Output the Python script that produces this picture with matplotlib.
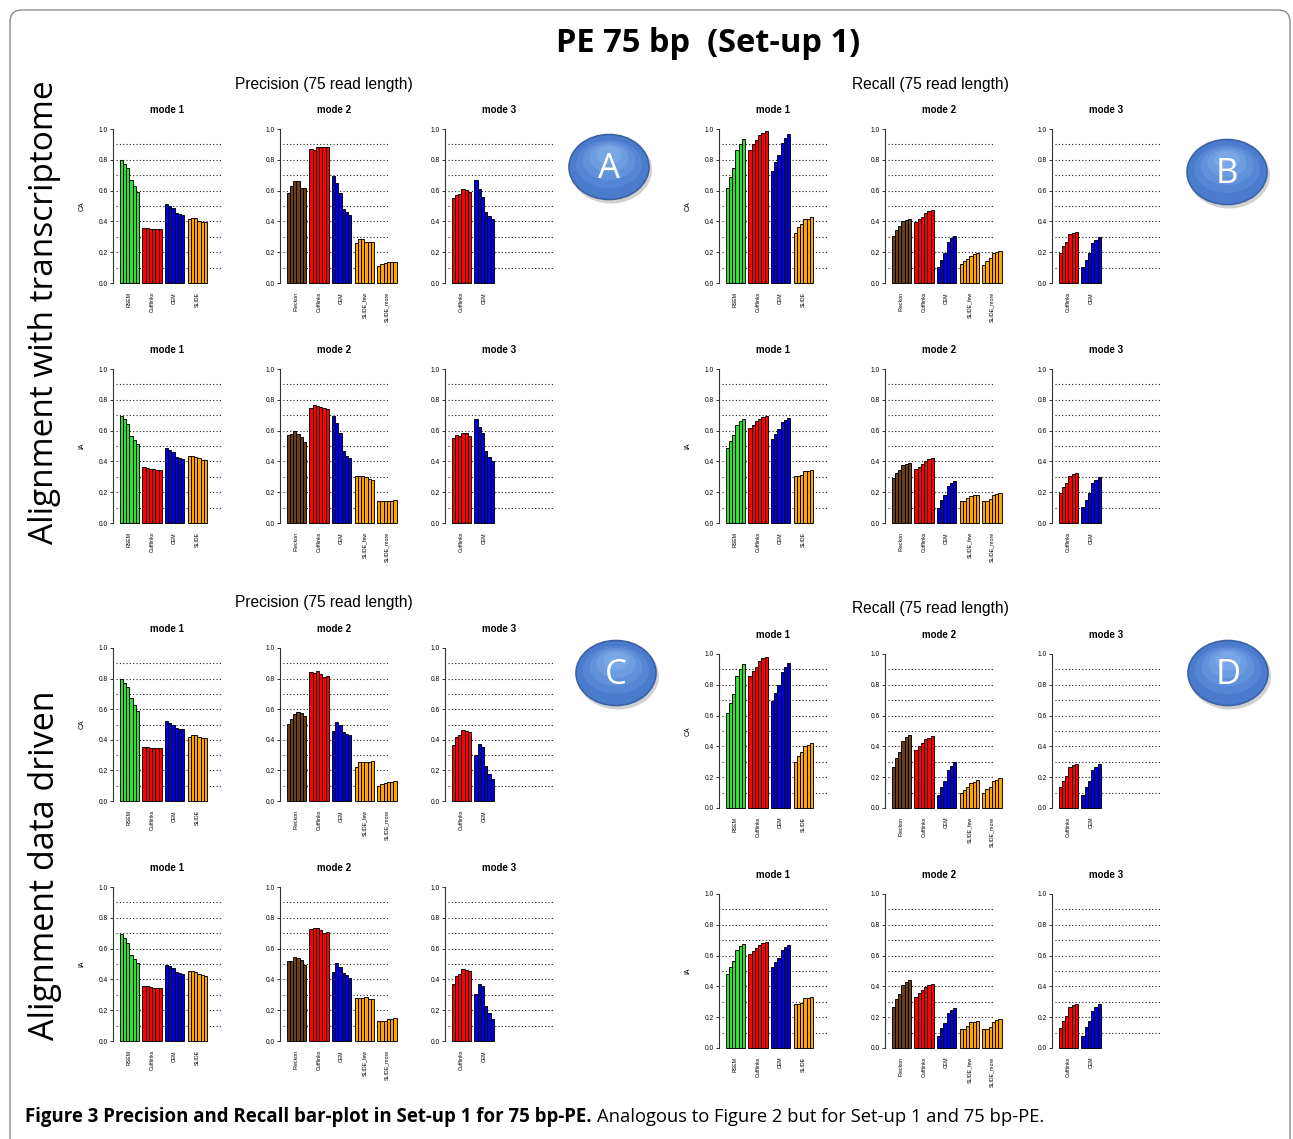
import matplotlib
matplotlib.use("Agg")
import matplotlib.pyplot as plt
import numpy as np
from matplotlib.patches import Ellipse, FancyBboxPatch
from matplotlib.transforms import IdentityTransform

plt.rcParams['font.family'] = ['Liberation Sans', 'DejaVu Sans']

W, H = 1293, 1139

# group names and colours per mode
mode1_names = ["RSEM", "Cufflinks", "CEM", "SLIDE"]
mode2_names = ["iReckon", "Cufflinks", "CEM", "SLIDE_few", "SLIDE_more"]
mode3_names = ["Cufflinks", "CEM"]
mode1_colors = ["#2fe02f", "#ff0000", "#0000e0", "#ffa500"]
mode2_colors = ["#6b3f1a", "#ff0000", "#0000e0", "#ffa500", "#ffa500"]
mode3_colors = ["#ff0000", "#0000e0"]

# A: precision, alignment with transcriptome
A_CA_m1 = [[0.80, 0.77, 0.75, 0.67, 0.63, 0.59],
           [0.36, 0.355, 0.35, 0.35, 0.35, 0.35],
           [0.515, 0.50, 0.485, 0.457, 0.448, 0.44],
           [0.415, 0.424, 0.42, 0.40, 0.396, 0.396]]
A_CA_m2 = [[0.583, 0.633, 0.66, 0.663, 0.62, 0.615],
           [0.87, 0.865, 0.883, 0.88, 0.88, 0.883],
           [0.696, 0.648, 0.587, 0.48, 0.459, 0.443],
           [0.257, 0.283, 0.283, 0.265, 0.265, 0.267],
           [0.113, 0.126, 0.133, 0.137, 0.139, 0.139]]
A_CA_m3 = [[0.55, 0.572, 0.576, 0.609, 0.604, 0.589],
           [0.67, 0.609, 0.56, 0.459, 0.437, 0.417]]
A_IA_m1 = [[0.698, 0.674, 0.641, 0.565, 0.539, 0.511],
           [0.361, 0.357, 0.352, 0.348, 0.343, 0.343],
           [0.485, 0.474, 0.459, 0.43, 0.422, 0.415],
           [0.437, 0.437, 0.43, 0.42, 0.407, 0.407]]
A_IA_m2 = [[0.572, 0.576, 0.598, 0.576, 0.557, 0.528],
           [0.746, 0.763, 0.757, 0.754, 0.746, 0.743],
           [0.693, 0.65, 0.587, 0.465, 0.433, 0.422],
           [0.304, 0.304, 0.307, 0.296, 0.287, 0.276],
           [0.141, 0.141, 0.141, 0.146, 0.146, 0.148]]
A_IA_m3 = [[0.55, 0.572, 0.563, 0.583, 0.583, 0.565],
           [0.678, 0.622, 0.583, 0.465, 0.428, 0.404]]

# B: recall, alignment with transcriptome
B_CA_m1 = [[0.615, 0.687, 0.746, 0.861, 0.902, 0.937],
           [0.861, 0.902, 0.928, 0.963, 0.976, 0.987],
           [0.726, 0.783, 0.83, 0.911, 0.941, 0.967],
           [0.322, 0.361, 0.38, 0.415, 0.415, 0.426]]
B_CA_m2 = [[0.302, 0.343, 0.37, 0.402, 0.409, 0.413],
           [0.393, 0.415, 0.43, 0.457, 0.465, 0.472],
           [0.104, 0.152, 0.193, 0.265, 0.289, 0.304],
           [0.122, 0.143, 0.159, 0.178, 0.189, 0.198],
           [0.12, 0.146, 0.165, 0.193, 0.204, 0.209]]
B_CA_m3 = [[0.196, 0.239, 0.265, 0.315, 0.326, 0.33],
           [0.104, 0.152, 0.196, 0.257, 0.278, 0.30]]
B_IA_m1 = [[0.485, 0.533, 0.57, 0.637, 0.663, 0.676],
           [0.615, 0.639, 0.661, 0.678, 0.689, 0.693],
           [0.546, 0.578, 0.611, 0.657, 0.672, 0.68],
           [0.302, 0.302, 0.309, 0.335, 0.335, 0.341]]
B_IA_m2 = [[0.293, 0.322, 0.341, 0.378, 0.383, 0.391],
           [0.348, 0.365, 0.38, 0.404, 0.417, 0.422],
           [0.098, 0.148, 0.185, 0.239, 0.257, 0.272],
           [0.146, 0.146, 0.161, 0.176, 0.183, 0.183],
           [0.146, 0.146, 0.157, 0.183, 0.191, 0.198]]
B_IA_m3 = [[0.196, 0.235, 0.261, 0.302, 0.317, 0.324],
           [0.104, 0.152, 0.196, 0.259, 0.278, 0.298]]

# C: precision, alignment data driven
C_CA_m1 = [[0.80, 0.771, 0.747, 0.673, 0.63, 0.586],
           [0.353, 0.351, 0.349, 0.346, 0.346, 0.346],
           [0.521, 0.512, 0.499, 0.479, 0.473, 0.468],
           [0.42, 0.434, 0.431, 0.418, 0.412, 0.412]]
C_CA_m2 = [[0.501, 0.538, 0.569, 0.58, 0.575, 0.558],
           [0.841, 0.839, 0.852, 0.832, 0.808, 0.819],
           [0.46, 0.519, 0.495, 0.453, 0.44, 0.431],
           [0.222, 0.253, 0.253, 0.257, 0.255, 0.259],
           [0.10, 0.113, 0.115, 0.126, 0.126, 0.133]]
C_CA_m3 = [[0.368, 0.42, 0.434, 0.464, 0.46, 0.451],
           [0.303, 0.37, 0.355, 0.231, 0.179, 0.146]]
C_IA_m1 = [[0.696, 0.67, 0.639, 0.561, 0.535, 0.507],
           [0.357, 0.354, 0.352, 0.346, 0.343, 0.341],
           [0.493, 0.485, 0.472, 0.448, 0.443, 0.437],
           [0.454, 0.452, 0.446, 0.437, 0.426, 0.424]]
C_IA_m2 = [[0.517, 0.522, 0.543, 0.539, 0.524, 0.491],
           [0.728, 0.735, 0.733, 0.722, 0.702, 0.709],
           [0.446, 0.504, 0.483, 0.441, 0.426, 0.409],
           [0.276, 0.276, 0.276, 0.283, 0.27, 0.274],
           [0.128, 0.128, 0.133, 0.141, 0.146, 0.15]]
C_IA_m3 = [[0.37, 0.42, 0.435, 0.465, 0.459, 0.452],
           [0.304, 0.372, 0.357, 0.23, 0.18, 0.146]]

# D: recall, alignment data driven
D_CA_m1 = [[0.615, 0.685, 0.741, 0.859, 0.902, 0.935],
           [0.854, 0.887, 0.915, 0.952, 0.972, 0.98],
           [0.696, 0.75, 0.798, 0.885, 0.915, 0.941],
           [0.30, 0.337, 0.365, 0.40, 0.407, 0.42]]
D_CA_m2 = [[0.263, 0.326, 0.365, 0.437, 0.459, 0.474],
           [0.378, 0.402, 0.422, 0.446, 0.452, 0.465],
           [0.083, 0.139, 0.178, 0.248, 0.272, 0.296],
           [0.10, 0.12, 0.137, 0.165, 0.172, 0.185],
           [0.098, 0.126, 0.139, 0.174, 0.185, 0.193]]
D_CA_m3 = [[0.135, 0.178, 0.211, 0.263, 0.276, 0.283],
           [0.083, 0.139, 0.178, 0.246, 0.263, 0.283]]
D_IA_m1 = [[0.483, 0.528, 0.567, 0.635, 0.661, 0.674],
           [0.609, 0.633, 0.652, 0.672, 0.685, 0.687],
           [0.524, 0.557, 0.587, 0.637, 0.659, 0.667],
           [0.283, 0.283, 0.293, 0.326, 0.326, 0.333]]
D_IA_m2 = [[0.265, 0.315, 0.352, 0.411, 0.43, 0.443],
           [0.33, 0.357, 0.374, 0.396, 0.409, 0.417],
           [0.078, 0.128, 0.163, 0.228, 0.248, 0.257],
           [0.126, 0.126, 0.141, 0.172, 0.172, 0.178],
           [0.126, 0.126, 0.139, 0.172, 0.183, 0.189]]
D_IA_m3 = [[0.133, 0.178, 0.211, 0.263, 0.276, 0.283],
           [0.08, 0.135, 0.178, 0.243, 0.263, 0.283]]

PX = 3.23       # pixels per bar unit
OFF = 2.1       # gap between axis and first bar (bar units)
XMAX = 37


def fx(px):
    return px / W


def fy(py):
    return 1 - py / H


def panel(x_spine, y_top, y_zero, groups, names, colors, mode, ylab=None):
    ax = fig.add_axes([fx(x_spine), fy(y_zero), XMAX * PX / W, (y_zero - y_top) / H])
    ax.set_xlim(0, XMAX)
    ax.set_ylim(0, 1)
    ax.hlines(np.arange(1, 10) / 10, 0.9, 33.5, colors='#222222',
              linestyles=(0, (1, 2)), lw=0.8, zorder=1)
    for g, vals in enumerate(groups):
        x = OFF + 7 * g + np.arange(len(vals))
        ax.bar(x, vals, width=1, align='edge', color=colors[g],
               edgecolor='black', lw=0.65, zorder=2, clip_on=False)
        ax.text(OFF + 7 * g + 3, -9 / (y_zero - y_top), names[g], rotation=90,
                ha='center', va='top', fontsize=3.8,
                transform=ax.get_xaxis_transform())
    for s in ['top', 'right', 'bottom']:
        ax.spines[s].set_visible(False)
    ax.spines['left'].set_bounds(0, 1)
    ax.spines['left'].set_color('#333333')
    ax.set_xticks([])
    ax.set_yticks(np.arange(6) / 5)
    ax.set_yticklabels(["%.1f" % v for v in np.arange(6) / 5])
    ax.tick_params(axis='y', labelsize=4.8, length=2.2, width=0.7, pad=1.5,
                   color='#333333')
    ax.patch.set_alpha(0)
    fig.text(fx(x_spine + 54), fy(y_top - 19), mode, ha='center', va='center',
             fontsize=7, fontweight='bold')
    if ylab:
        fig.text(fx(x_spine - 31), fy((y_top + y_zero) / 2), ylab, rotation=90,
                 ha='center', va='center', fontsize=5)
    return ax


fig = plt.figure(figsize=(W / 100, H / 100), dpi=100)

# frame around the figure
frame = FancyBboxPatch((10, -30), 1280, H - 10 + 30, boxstyle="round,pad=0,rounding_size=12",
                       transform=IdentityTransform(), fill=False, ec='#808080', lw=0.9)
fig.add_artist(frame)

quads = [
    ([113, 280, 445], [(129, 283), (369, 523)], [A_CA_m1, A_CA_m2, A_CA_m3], [A_IA_m1, A_IA_m2, A_IA_m3]),
    ([719, 885, 1052], [(129, 283), (369, 523)], [B_CA_m1, B_CA_m2, B_CA_m3], [B_IA_m1, B_IA_m2, B_IA_m3]),
    ([113, 280, 445], [(648, 801), (887, 1041)], [C_CA_m1, C_CA_m2, C_CA_m3], [C_IA_m1, C_IA_m2, C_IA_m3]),
    ([719, 885, 1052], [(654, 808), (894, 1048)], [D_CA_m1, D_CA_m2, D_CA_m3], [D_IA_m1, D_IA_m2, D_IA_m3]),
]
names = [mode1_names, mode2_names, mode3_names]
colors = [mode1_colors, mode2_colors, mode3_colors]

for xs, rows, ca, ia in quads:
    for (yt, yz), data, lab in zip(rows, [ca, ia], ["CA", "IA"]):
        for m in range(3):
            panel(xs[m], yt, yz, data[m], names[m], colors[m], "mode %d" % (m + 1),
                  ylab=lab if m == 0 else None)

# headers
fig.text(fx(708), fy(44), "PE 75 bp  (Set-up 1)", ha='center', va='center',
         fontsize=23.5, fontweight='bold', family='Open Sans')
fig.text(fx(324), fy(84), "Precision (75 read length)", ha='center', va='center', fontsize=11.2)
fig.text(fx(930), fy(84), "Recall (75 read length)", ha='center', va='center', fontsize=11.2)
fig.text(fx(324), fy(602), "Precision (75 read length)", ha='center', va='center', fontsize=11.2)
fig.text(fx(930), fy(609), "Recall (75 read length)", ha='center', va='center', fontsize=11.2)

fig.text(fx(45), fy(312), "Alignment with transcriptome", rotation=90, ha='center',
         va='center', fontsize=24, family='Open Sans')
fig.text(fx(45), fy(865), "Alignment data driven", rotation=90, ha='center',
         va='center', fontsize=24.5, family='Open Sans')

# circle markers
for letter, cx, cy in [("A", 609, 167), ("B", 1227, 172), ("C", 616, 673), ("D", 1228, 673)]:
    shadow = Ellipse((fx(cx + 2), fy(cy + 3)), 82 / W, 67 / H, transform=fig.transFigure,
                     color='#9a9a9a', alpha=0.45, lw=0)
    fig.add_artist(shadow)
    base = Ellipse((fx(cx), fy(cy)), 80 / W, 65 / H, transform=fig.transFigure,
                   fc='#4a7bcc', ec='#3b62a3', lw=1.2)
    fig.add_artist(base)
    for k, c in enumerate(['#5586d3', '#6191da', '#6d9ce0', '#79a6e6']):
        s = 1 - 0.17 * (k + 1)
        fig.add_artist(Ellipse((fx(cx), fy(cy - 12 * (k + 1) / 4)), 80 * s / W, 58 * s / H,
                               transform=fig.transFigure, fc=c, lw=0))
    fig.text(fx(cx), fy(cy + 2), letter, ha='center', va='center', color='white',
             fontsize=25, family='Open Sans')

# caption
t1 = fig.text(fx(25), fy(1117), "Figure 3 Precision and Recall bar-plot in Set-up 1 for 75 bp-PE.",
              ha='left', va='center', fontsize=13.4, fontweight='bold', family='Open Sans')
r = fig.canvas.get_renderer()
bb = t1.get_window_extent(r)
fig.text((bb.x1 + 5) / W, fy(1117), "Analogous to Figure 2 but for Set-up 1 and 75 bp-PE.",
         ha='left', va='center', fontsize=13.2, family='Open Sans')

fig.savefig("out.png", dpi=100)
